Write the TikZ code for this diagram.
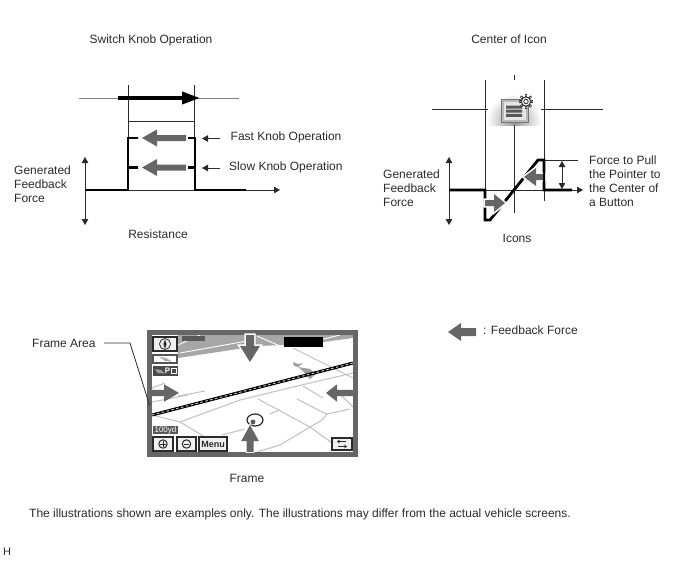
\documentclass[tikz,border=0pt]{standalone}
\usepackage{fontspec}
\setmainfont{Liberation Sans}
\usetikzlibrary{arrows.meta}
\definecolor{ink}{HTML}{2A2A2A}
\definecolor{blockgray}{HTML}{666666}
\definecolor{roadgray}{HTML}{C4C4C4}
\definecolor{bandgray}{HTML}{A6A6A6}
\tikzset{
  label text/.style={font=\fontsize{12}{14}\selectfont,text=ink,inner sep=0pt,align=left,anchor=west},
  mid text/.style={font=\fontsize{12}{14}\selectfont,text=ink,inner sep=0pt,align=center,anchor=center},
  thin rule/.style={draw=ink,line width=0.8pt},
  heavy rule/.style={draw=black,line width=2.8pt},
  axis tip/.style={-{Triangle[length=6pt,width=6.5pt]}},
  both tips/.style={{Triangle[length=6pt,width=6.5pt]}-{Triangle[length=6pt,width=6.5pt]}},
  road/.style={draw=roadgray,line width=1.1pt},
  screen key/.style={draw=ink,line width=1.2pt,fill=gray!12},
  halo/.style={preaction={draw=white,line width=#1,line join=miter}},
}
% Block arrow with its tip at (#2,#3), turned by #4 degrees: tail length #5, head length #6,
% head half-width #7, shaft half-width #8.
\newcommand\blockarrow[8][]{%
  \path[fill=blockgray,#1,shift={(#2,#3)},rotate=#4]
    (0,0)--(#6,#7)--(#6,#8)--(#5,#8)--(#5,-#8)--(#6,-#8)--(#6,-#7)--cycle;}
\begin{document}
\begin{tikzpicture}[x=1pt,y=-1pt]
\useasboundingbox (0,0) rectangle (688,560);

% ---------- knob operation chart ----------
\node[mid text] (knobtitle) at (151,40) {Switch Knob Operation};
\coordinate (ka) at (79,98); \coordinate (kb) at (239,98);
\draw[thin rule,draw=gray] (ka)--(kb);
\coordinate (kl1) at (128,85); \coordinate (kl2) at (128,190);
\coordinate (kr1) at (194.5,85); \coordinate (kr2) at (194.5,190);
\draw[thin rule] (kl1)--(kl2) (kr1)--(kr2);
\draw[thin rule] (128,121)--(194.5,121);
\draw[black,line width=3.6pt,-{Triangle[length=18pt,width=12pt]}] (118,98)--(200,98);
\coordinate (kx0) at (85,190); \coordinate (kx1) at (280,190);
\draw[thin rule,axis tip,fill=black] (kx0)--(kx1);
\coordinate (ky0) at (85,157); \coordinate (ky1) at (85,225);
\draw[thin rule,both tips,fill=black] (ky0)--(ky1);
\draw[heavy rule] (85,190)--(128,190)--(128,138)--(138,138);
\draw[heavy rule] (128,167.5)--(138,167.5);
\draw[heavy rule] (188,138)--(195,138)--(195,190)--(246,190);
\draw[heavy rule] (188,167.5)--(195,167.5);
\blockarrow{142}{138}{0}{44}{15}{8.5}{3}
\blockarrow{142}{167.5}{0}{44}{15}{8.5}{3}
\node[label text] (fast) at (230.5,137) {Fast Knob Operation};
\node[label text] (slow) at (229,167) {Slow Knob Operation};
\coordinate (fa) at (220,138.5); \coordinate (fb) at (202,138.5);
\coordinate (sa) at (220,168); \coordinate (sb) at (202,168);
\draw[thin rule,axis tip,fill=black] (fa)--(fb);
\draw[thin rule,axis tip,fill=black] (sa)--(sb);
\node[label text] (forceL) at (14,184) {Generated\\Feedback\\Force};
\node[mid text] (resist) at (158,234.5) {Resistance};

% ---------- icon centring chart ----------
\node[mid text] (icontitle) at (509,39) {Center of Icon};
\begin{scope}
  \clip (485.5,85) rectangle (543.5,125);
  \shade[inner color=gray!85,outer color=white] (514,121) circle (27);
\end{scope}
\coordinate (it1) at (514.5,75); \coordinate (it2) at (514.5,80);
\draw[thin rule] (it1)--(it2);
\draw[thin rule] (485,80)--(485,190) (544,80)--(544,201);
\draw[thin rule] (432,109)--(488,109) (541,109)--(603,109);
\draw[thin rule] (514.5,125)--(514.5,213);
% icon body
\draw[draw=gray!90!black,line width=1pt,fill=gray!55] (501,99.5) rectangle (528,122);
\fill[gray!20] (503.5,102) rectangle (525.5,119.5);
\fill[gray!70!black] (506,105.5) rectangle (522,108.5) (506,109.7) rectangle (522,112.7) (506,113.9) rectangle (522,116.9);
% gear
\foreach \a in {0,45,...,315}
  \draw[ink,line width=2.2pt] (526,101.5) ++(\a:3.5) -- ++(\a:3.8);
\draw[ink,line width=0.9pt,fill=white] (526,101.5) circle (4.6);
\fill[white] (526,101.5) circle (3.6);
\draw[ink,line width=0.8pt] (526,101.5) circle (2.2);
\foreach \a in {0,45,...,315}
  \fill[white] (526,101.5) ++(\a:6) circle (0.55);
% axes and profile
\coordinate (ix0) at (449,190); \coordinate (ix1) at (583,190);
\draw[thin rule,axis tip,fill=black] (ix0)--(ix1);
\coordinate (iy0) at (449,157); \coordinate (iy1) at (449,225);
\draw[thin rule,both tips,fill=black] (iy0)--(iy1);
\draw[thin rule] (544,160)--(578,160);
\coordinate (iz0) at (562,161); \coordinate (iz1) at (562,189);
\draw[thin rule,both tips,fill=black] (iz0)--(iz1);
\draw[heavy rule] (449,190)--(485,190)--(485,220)--(490,220)--(538,160)--(544,160)--(544,190)--(572,190);
\blockarrow[halo=3.2pt]{505}{203}{180}{20}{11}{9}{3}
\blockarrow[halo=3.2pt]{524}{177}{0}{20}{12}{9}{3}
\draw[heavy rule] (544,165)--(544,190);
\node[label text] (forceR) at (383,188) {Generated\\Feedback\\Force};
\node[label text] (pull) at (589,181.5) {Force to Pull\\the Pointer to\\the Center of\\a Button};
\node[mid text] (icons) at (517,238.5) {Icons};

% ---------- legend ----------
\blockarrow{448}{332}{0}{28}{13}{9}{4}
\node[label text] (legend) at (483,330) {: Feedback Force};

% ---------- frame screen ----------
\fill[white] (150,333) rectangle (355,455);
% map band across the top
\fill[bandgray] (178,335)--(353,335)--(353,338)--(323,342)--(285,345)--(258,346)--(178,358)--cycle;
\draw[white,line width=0.9pt] (180,353)--(247,341) (178,345)--(200,335) (257,336)--(280,346) (300,345)--(340,335);
% streets
\draw[road] (152,415)--(180,422)--(223,448);
\draw[road] (180,422)--(240,400)--(293,387)--(353,373);
\draw[road] (258,399)--(310,427)--(335,445);
\draw[road] (297,399)--(322,412)--(327,414)--(350,409);
\draw[road] (327,414)--(322,420)--(310,427)--(280,445)--(257,452);
\draw[road] (270,414)--(280,410) (222,435)--(245,429);
\draw[road] (340,394)--(353,407) (293,348)--(353,378) (303,386)--(323,398);
\draw[road] (152,388)--(165,383) (178,396)--(205,391) (152,402)--(188,395);
% vehicle track marks
\fill[gray!75] (293,362)--(298,364)--(303,363)--(298,367)--(294,366)--cycle;
\fill[gray!75] (298,367)--(310,369)--(316,374)--(310,379)--(306,375)--(303,371)--cycle;
% dashed boundary road
\draw[black,line width=3pt] (152,415)--(353,363);
\draw[gray!35,line width=0.9pt,dash pattern=on 2.5pt off 2.5pt] (152,415)--(353,363);
% screen frame
\draw[blockgray,line width=5pt] (149.5,332.5) rectangle (355.5,454.5);
% top-left keys
\draw[screen key] (153,337) rectangle (177,351);
\draw[ink,line width=0.8pt] (165,344) circle (5.5);
\fill[ink] (165,339.5)--(166.6,344)--(165,349)--(163.4,344)--cycle;
\fill[gray!70!black] (182,336) rectangle (205,341);
\draw[draw=ink!80,line width=1.2pt,fill=white] (153,355) rectangle (177,363);
\fill[gray!65] (159,356.5)--(166,358)--(172,361.5)--(165,361)--cycle;
\fill[ink!85] (153,366) rectangle (178,376);
\fill[gray!75] (155,369)--(161,370)--(165,373.5)--(158,373)--cycle;
\node[font=\fontsize{8}{8}\selectfont\bfseries,text=white,inner sep=0pt] (pmark) at (167.5,371) {P};
\draw[draw=white,line width=0.9pt] (171.5,368.5) rectangle (176.5,373.5);
% black name strip
\fill[black] (284,337) rectangle (323,347);
% pointer ring
\fill[gray!70!black] (253,422) circle (2.4);
\draw[ink,line width=1.2pt] (255,420) ellipse (8 and 6);
% inward feedback arrows
\blockarrow[halo=3.2pt]{250}{362}{90}{27}{16}{10}{4}
\blockarrow{179}{393}{180}{27}{15}{8.7}{3.2}
\blockarrow{326}{393}{0}{27}{11}{8.7}{3.2}
\blockarrow[halo=1.6pt]{250}{425}{-90}{27}{16}{8.8}{3.5}
% lower keys
\fill[gray!70!black] (153,426) rectangle (178,434);
\node[font=\fontsize{8}{8}\selectfont,text=white,inner sep=0pt] (scale) at (165.5,430) {100yd};
\draw[screen key] (153,437) rectangle (173,451);
\draw[ink,line width=1pt] (163,444) circle (4.2);
\draw[ink,line width=0.9pt] (160.4,444)--(165.6,444) (163,441.4)--(163,446.6);
\draw[screen key] (177,437) rectangle (196,451);
\draw[ink,line width=1pt] (186.5,444) circle (4.2);
\draw[ink,line width=0.9pt] (184,444)--(189,444);
\node[screen key,minimum width=28pt,minimum height=14pt,inner sep=0pt,font=\fontsize{9}{9}\selectfont\bfseries,text=ink] (menu) at (213,444) {Menu};
\draw[screen key] (332,438) rectangle (352,450);
\draw[ink,line width=1pt,-{Stealth[length=2.8pt,width=3.8pt]}] (346,441.5) -- (337,441.5);
\draw[ink,line width=1pt,-{Stealth[length=2.8pt,width=3.8pt]}] (338,446.5) -- (347,446.5);
% frame area callout
\node[label text] (framearea) at (32,343) {Frame Area};
\coordinate (fc1) at (104,343); \coordinate (fc2) at (130,343); \coordinate (fc3) at (149.5,405);
\draw[thin rule] (fc1)--(fc2)--(fc3);
\node[mid text] (framecap) at (247,478.5) {Frame};

% ---------- footnote ----------
\node[label text] (note) at (29,514.5) {The illustrations shown are examples only. The illustrations may differ from the actual vehicle screens.};
\node[label text,font=\fontsize{11}{12}\selectfont] (hmark) at (3,551.5) {H};
\end{tikzpicture}
\end{document}
